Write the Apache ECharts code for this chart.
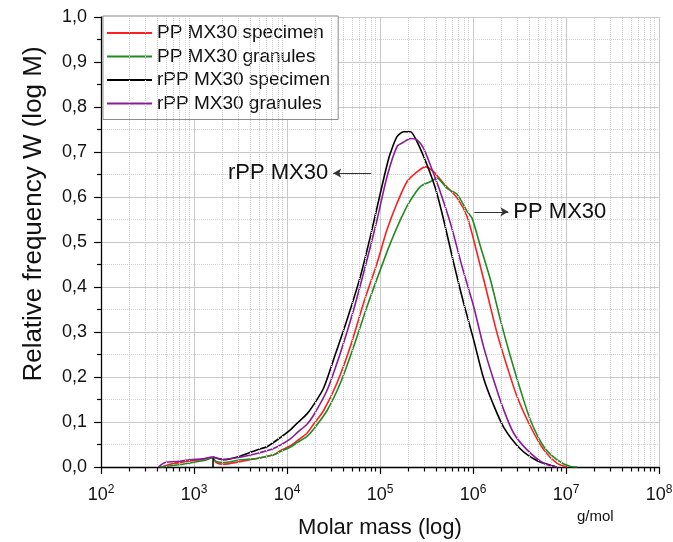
<!DOCTYPE html>
<html><head><meta charset="utf-8">
<script src="https://cdn.jsdelivr.net/npm/echarts@6/dist/echarts.min.js"></script>
<style>html,body{margin:0;padding:0;background:#fff}#c{width:673px;height:542px}</style>
</head><body><div id="c"></div>
<script>
// ---- data (molar mass in g/mol, relative frequency W(log M)) ----
const seriesNames = ['PP MX30 specimen', 'PP MX30 granules', 'rPP MX30 specimen', 'rPP MX30 granules'];
const seriesColors = ['#ff1e1e', '#1e8c1e', '#000000', '#8a1a9b'];

const massPPSpec = [450, 553, 802, 1164, 1567, 1729, 2070, 3130, 4740, 7160, 8450, 10800, 12800, 16400, 19300, 24700, 34400, 47900, 66500, 92900, 118900, 152300, 195000, 250000, 307600, 377600, 484000, 674000, 865000, 1107000, 1418000, 1816000, 2330000, 2980000, 4150000, 5770000, 8030000, 10300000];
const wPPSpec    = [0, 0.006, 0.012, 0.016, 0.021, 0.010, 0.006, 0.012, 0.019, 0.027, 0.036, 0.047, 0.058, 0.075, 0.095, 0.125, 0.186, 0.267, 0.364, 0.453, 0.527, 0.586, 0.634, 0.656, 0.667, 0.656, 0.630, 0.598, 0.556, 0.475, 0.386, 0.297, 0.223, 0.156, 0.090, 0.038, 0.008, 0];

const massPPGran = [431, 626, 908, 1316, 1567, 1729, 2070, 3130, 4740, 7160, 8450, 10800, 12800, 16400, 19300, 26900, 37400, 52000, 72400, 100700, 129100, 165500, 203200, 271600, 347500, 411000, 526000, 674000, 865000, 977000, 1202000, 1540000, 1970000, 2530000, 3240000, 4150000, 5770000, 8030000, 11170000, 13200000];
const wPPGran    = [0, 0.004, 0.009, 0.015, 0.020, 0.012, 0.010, 0.016, 0.019, 0.027, 0.034, 0.044, 0.054, 0.068, 0.084, 0.125, 0.186, 0.267, 0.356, 0.438, 0.497, 0.549, 0.586, 0.623, 0.634, 0.642, 0.619, 0.606, 0.568, 0.553, 0.490, 0.416, 0.327, 0.245, 0.171, 0.104, 0.045, 0.016, 0.001, 0];

const massRPPSpec = [1600, 1610, 2070, 3130, 4740, 6080, 7790, 10800, 12800, 16400, 19300, 24700, 31600, 44200, 61400, 78700, 100700, 118900, 129100, 152300, 179500, 211900, 250000, 320600, 400000, 484000, 620000, 794000, 1018000, 1300000, 1610000, 2140000, 3240000, 4900000, 7330000, 7700000];
const wRPPSpec    = [0, 0.022, 0.016, 0.024, 0.038, 0.045, 0.060, 0.082, 0.097, 0.118, 0.138, 0.175, 0.238, 0.327, 0.423, 0.512, 0.608, 0.671, 0.697, 0.734, 0.745, 0.745, 0.723, 0.671, 0.615, 0.549, 0.453, 0.364, 0.282, 0.197, 0.145, 0.088, 0.040, 0.014, 0.002, 0];

const massRPPGran = [414, 489, 653, 908, 1262, 1556, 2070, 3130, 4740, 7160, 10800, 12800, 16400, 19300, 26900, 37400, 52000, 72400, 92900, 118900, 152300, 180000, 211900, 250000, 294500, 347500, 430000, 571000, 764000, 1018000, 1300000, 1670000, 2140000, 2740000, 3820000, 5770000, 8030000];
const wRPPGran    = [0, 0.010, 0.012, 0.016, 0.018, 0.022, 0.017, 0.022, 0.030, 0.041, 0.062, 0.076, 0.095, 0.115, 0.170, 0.253, 0.349, 0.460, 0.549, 0.645, 0.712, 0.722, 0.730, 0.727, 0.708, 0.671, 0.620, 0.542, 0.445, 0.356, 0.267, 0.193, 0.127, 0.075, 0.038, 0.008, 0];

// axis ticks
const xDecades = [100, 1000, 10000, 100000, 1000000, 10000000, 100000000];
const minorMultipliers = [2, 3, 4, 5, 6, 7, 8, 9];

// annotations: [label, tailMass, headMass, W]
const annRPP = ['rPP MX30', 80500, 31400, 0.653];
const annPP  = ['PP MX30', 1035000, 2400000, 0.567];

// ---- build ----
const zip = (a, b) => a.map((v, i) => [v, b[i]]);
const seriesData = [zip(massPPSpec, wPPSpec), zip(massPPGran, wPPGran), zip(massRPPSpec, wRPPSpec), zip(massRPPGran, wRPPGran)];
const minorValues = [];
xDecades.slice(0, -1).forEach(d => minorMultipliers.forEach(m => minorValues.push(d * m)));

const FONT = 'Liberation Sans, Arial, sans-serif';
const chart = echarts.init(document.getElementById('c'), null, {renderer: 'canvas'});

const lineSeries = seriesNames.map((name, i) => ({
  name, type: 'line', data: seriesData[i], showSymbol: false, symbol: 'none',
  smooth: 0.25, lineStyle: {color: seriesColors[i], width: 1.6}, itemStyle: {color: seriesColors[i]},
  z: 3, animation: false
}));

function arrow(a) {
  return [{name: a[0], coord: [a[1], a[3]]}, {coord: [a[2], a[3]]}];
}

chart.setOption({
  animation: false,
  textStyle: {fontFamily: FONT},
  grid: [
    {left: 101, right: 14, top: 17, bottom: 75, outerBoundsMode: 'none', containLabel: false},
    {left: 101, right: 14, top: 467, height: 4.5, outerBoundsMode: 'none', containLabel: false}
  ],
  legend: {
    data: seriesNames, orient: 'vertical', left: 103, top: 16,
    icon: 'rect', itemWidth: 45, itemHeight: 2,
    backgroundColor: '#fff', borderColor: '#8c8c8c', borderWidth: 1, borderRadius: 0,
    padding: [7, 8, 6, 4], itemGap: 3.5,
    textStyle: {fontSize: 19, color: '#111', fontFamily: FONT, lineHeight: 20}
  },
  xAxis: [{
    type: 'log', logBase: 10, min: 100, max: 100000000, splitNumber: 6,
    name: 'Molar mass (log)', nameLocation: 'middle', nameGap: 50,
    nameTextStyle: {fontSize: 22, color: '#111', fontFamily: FONT},
    axisLine: {onZero: false, lineStyle: {color: '#000', width: 1.3}},
    axisTick: {show: true, length: 7, lineStyle: {color: '#000', width: 1.2}},
    axisLabel: {
      margin: 17, color: '#111', fontSize: 18, fontFamily: FONT,
      formatter: v => '10{s|' + Math.round(Math.log10(v)) + '}',
      rich: {s: {fontSize: 12, lineHeight: 10, verticalAlign: 'top', fontFamily: FONT, color: '#111'}},
      lineHeight: 22
    },
    splitLine: {show: true, lineStyle: {color: '#c9c9c9', width: 1}}
  }, {
    gridIndex: 1, type: 'log', logBase: 10, min: 100, max: 100000000, show: false
  }],
  yAxis: [{
    type: 'value', min: 0, max: 1, interval: 0.1,
    name: 'Relative frequency W (log M)', nameLocation: 'middle', nameGap: 54, nameRotate: 90,
    nameTextStyle: {fontSize: 26, color: '#111', fontFamily: FONT, padding: [0, 0, 0, 56]},
    axisLine: {show: true, lineStyle: {color: '#000', width: 1.3}},
    axisTick: {show: true, length: 7, lineStyle: {color: '#000', width: 1.2}},
    minorTick: {show: true, splitNumber: 2, length: 4, lineStyle: {color: '#000', width: 1.2}},
    axisLabel: {margin: 14, color: '#111', fontSize: 18, fontFamily: FONT,
      formatter: v => v.toFixed(1).replace('.', ',')},
    splitLine: {show: true, lineStyle: {color: '#c9c9c9', width: 1}},
    minorSplitLine: {show: true, lineStyle: {color: '#d2d2d2', width: 1, type: 'dotted'}}
  }, {
    gridIndex: 1, type: 'value', min: 0, max: 1, show: false
  }],
  graphic: [{
    type: 'text', left: 577, top: 509,
    style: {text: 'g/mol', fontSize: 15, fill: '#111', fontFamily: FONT}
  }],
  series: [
    {
      name: 'minorGrid', type: 'line', data: [], z: 1, silent: true,
      markLine: {silent: true, symbol: 'none', label: {show: false}, animation: false,
        lineStyle: {color: '#cdcdcd', width: 1, type: 'dotted'},
        data: minorValues.map(v => ({xAxis: v}))}
    },
    {
      name: 'minorTicks', type: 'line', data: [], xAxisIndex: 1, yAxisIndex: 1, z: 6, silent: true,
      markLine: {silent: true, symbol: 'none', label: {show: false}, animation: false,
        lineStyle: {color: '#000', width: 1.2, type: 'solid'},
        data: minorValues.map(v => ({xAxis: v}))}
    },
    ...lineSeries,
    {
      name: 'annotations', type: 'line', data: [], z: 7, silent: true,
      markLine: {
        silent: true, animation: false, symbol: ['none', 'arrow'], symbolSize: [7, 8],
        lineStyle: {color: '#333', width: 1, type: 'solid'},
        label: {show: true, position: 'end', formatter: '{b}', fontSize: 22, color: '#111', fontFamily: FONT, distance: 5},
        data: [arrow(annRPP), arrow(annPP)]
      }
    }
  ]
});
</script>
</body></html>
